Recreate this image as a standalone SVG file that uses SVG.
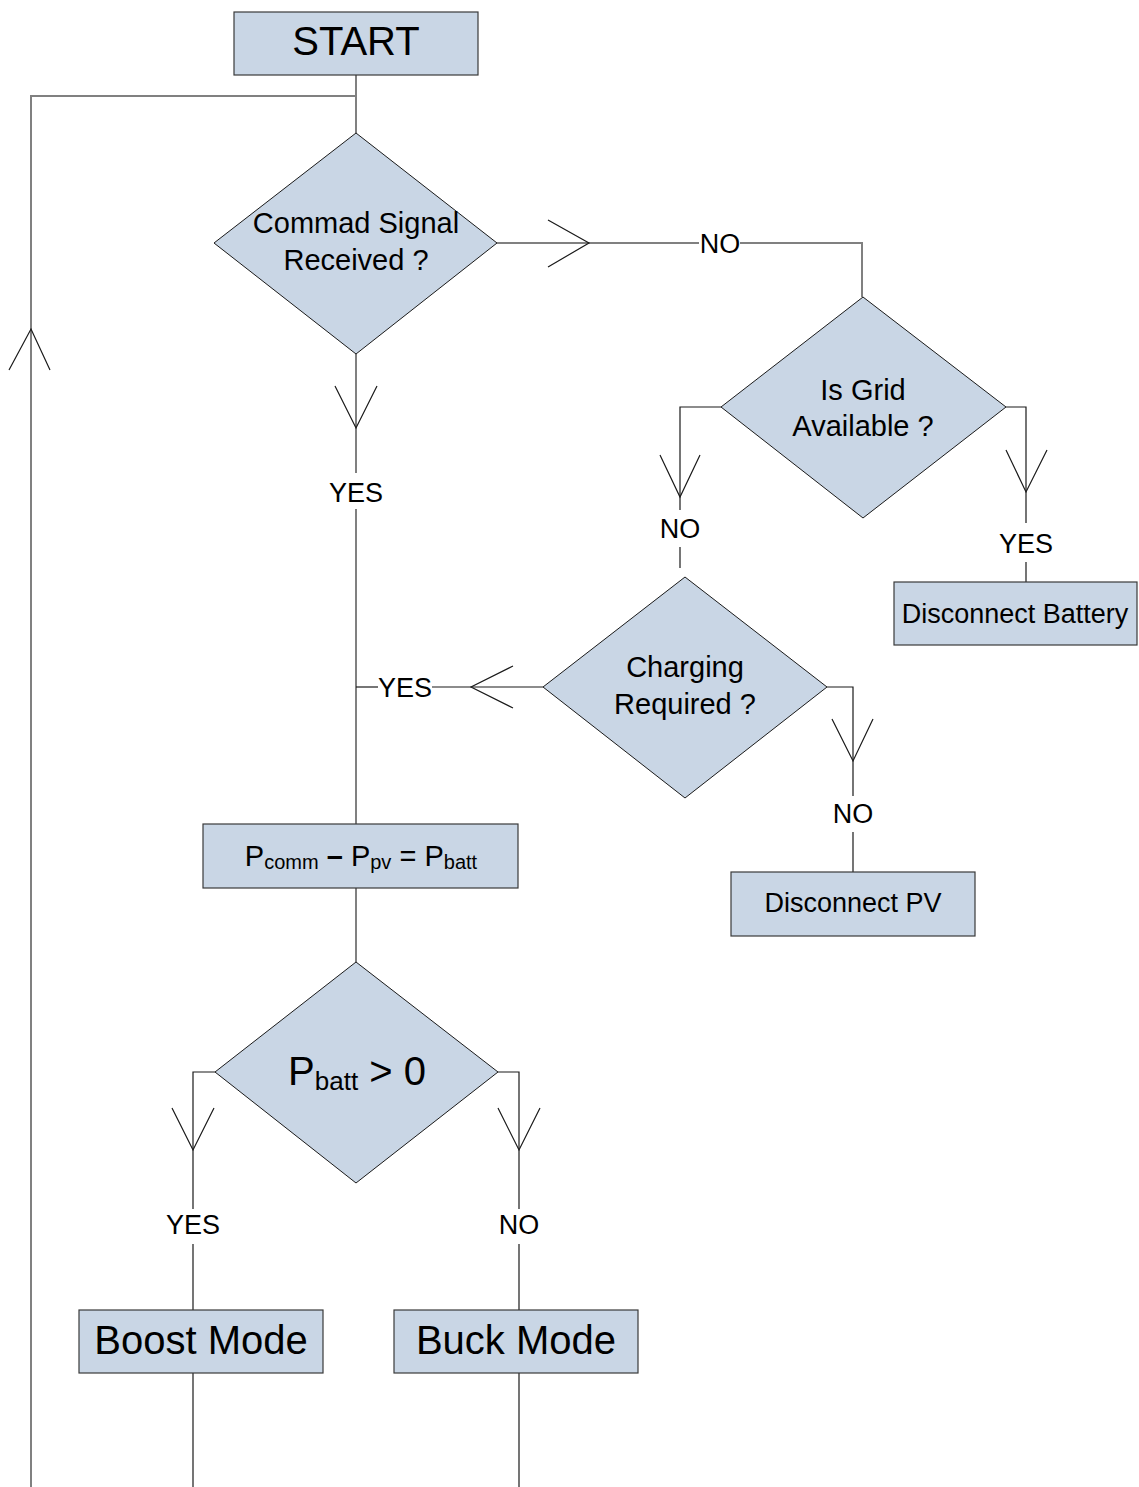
<svg xmlns="http://www.w3.org/2000/svg" width="1139" height="1487" viewBox="0 0 1139 1487">
  <style>
    text { font-family: "Liberation Sans", Arial, sans-serif; fill: #000; text-anchor: middle; }
    .box { fill: #c9d6e5; stroke: #3a3a3a; stroke-width: 1.2; }
    .dia { fill: #c9d6e5; stroke: #1a1a1a; stroke-width: 1; }
    .trunk { fill: none; stroke: #808080; stroke-width: 2; }
    .branch { fill: none; stroke: #1a1a1a; stroke-width: 1.2; }
    .head { fill: none; stroke: #1a1a1a; stroke-width: 1.2; }
    .big { font-size: 40px; }
    .q { font-size: 29px; }
    .lbl { font-size: 27px; }
    .mid { font-size: 27px; }
  </style>

  <!-- connectors -->
  <g id="connectors">
    <!-- start stem and return loop -->
    <path class="trunk" d="M356 75 V133"/>
    <path class="trunk" d="M356 96 H31 V1487"/>
    <path class="head" d="M9 370 L31 329 L50 370"/>

    <!-- command signal: NO branch -->
    <path class="trunk" d="M497 243 H699"/>
    <path class="trunk" d="M740 243 H862 V297"/>
    <path class="head" d="M548 220 L589 243 L548 267"/>

    <!-- command signal: YES trunk -->
    <path class="trunk" d="M356 354 V473"/>
    <path class="trunk" d="M356 509 V824"/>
    <path class="head" d="M335 386 L356 428 L377 386"/>

    <!-- grid available: NO -->
    <path class="branch" d="M721 407 H680 V510"/>
    <path class="branch" d="M680 547 V568"/>
    <path class="head" d="M660 455 L680 497 L700 455"/>

    <!-- grid available: YES -->
    <path class="branch" d="M1006 407 H1026 V523"/>
    <path class="branch" d="M1026 562 V582"/>
    <path class="head" d="M1006 450 L1026 492 L1047 450"/>

    <!-- charging required: YES -->
    <path class="branch" d="M543 687 H432"/>
    <path class="branch" d="M378 687 H356"/>
    <path class="head" d="M513 666 L471 687 L513 708"/>

    <!-- charging required: NO -->
    <path class="branch" d="M827 687 H853 V796"/>
    <path class="branch" d="M853 832 V872"/>
    <path class="head" d="M832 719 L853 761 L873 719"/>

    <!-- power balance to sign test -->
    <path class="trunk" d="M356 888 V962"/>

    <!-- sign test: YES -->
    <path class="branch" d="M215 1072 H193 V1209"/>
    <path class="branch" d="M193 1244 V1310"/>
    <path class="head" d="M172 1108 L193 1150 L214 1108"/>

    <!-- sign test: NO -->
    <path class="branch" d="M498 1072 H519 V1209"/>
    <path class="branch" d="M519 1244 V1310"/>
    <path class="head" d="M498 1108 L519 1150 L540 1108"/>

    <!-- mode outputs -->
    <path class="branch" d="M193 1373 V1487"/>
    <path class="branch" d="M519 1373 V1487"/>

    <!-- branch labels -->
    <text class="lbl" x="720" y="253">NO</text>
    <text class="lbl" x="356" y="502">YES</text>
    <text class="lbl" x="680" y="538">NO</text>
    <text class="lbl" x="1026" y="553">YES</text>
    <text class="lbl" x="405" y="697">YES</text>
    <text class="lbl" x="853" y="823">NO</text>
    <text class="lbl" x="193" y="1234">YES</text>
    <text class="lbl" x="519" y="1234">NO</text>
  </g>

  <g id="start">
    <rect class="box" x="234" y="12" width="244" height="63"/>
    <text class="big" x="356" y="55">START</text>
  </g>

  <g id="command-signal">
    <polygon class="dia" points="356,133 497,243 356,354 214,243"/>
    <text class="q" x="356" y="233">Commad Signal</text>
    <text class="q" x="356" y="270">Received ?</text>
  </g>

  <g id="grid-available">
    <polygon class="dia" points="863,297 1006,407 863,518 721,407"/>
    <text class="q" x="863" y="400">Is Grid</text>
    <text class="q" x="863" y="436">Available ?</text>
  </g>

  <g id="disconnect-battery">
    <rect class="box" x="894" y="582" width="243" height="63"/>
    <text class="mid" x="1015" y="623">Disconnect Battery</text>
  </g>

  <g id="charging-required">
    <polygon class="dia" points="685,577 827,687 685,798 543,687"/>
    <text class="q" x="685" y="677">Charging</text>
    <text class="q" x="685" y="714">Required ?</text>
  </g>

  <g id="disconnect-pv">
    <rect class="box" x="731" y="872" width="244" height="64"/>
    <text class="mid" x="853" y="912">Disconnect PV</text>
  </g>

  <g id="power-balance">
    <rect class="box" x="203" y="824" width="315" height="64"/>
    <text x="361" y="866" font-size="29">P<tspan font-size="20" dy="3">comm</tspan><tspan dy="-3" font-weight="bold"> – </tspan><tspan dy="0">P</tspan><tspan font-size="20" dy="3">pv</tspan><tspan dy="-3"> = P</tspan><tspan font-size="20" dy="3">batt</tspan></text>
  </g>

  <g id="sign-test">
    <polygon class="dia" points="356,962 498,1072 356,1183 215,1072"/>
    <text x="357" y="1085" font-size="40">P<tspan font-size="26" dy="5">batt</tspan><tspan dy="-5"> &gt; 0</tspan></text>
  </g>

  <g id="boost-mode">
    <rect class="box" x="79" y="1310" width="244" height="63"/>
    <text class="big" x="201" y="1354">Boost Mode</text>
  </g>

  <g id="buck-mode">
    <rect class="box" x="394" y="1310" width="244" height="63"/>
    <text class="big" x="516" y="1354">Buck Mode</text>
  </g>
</svg>
